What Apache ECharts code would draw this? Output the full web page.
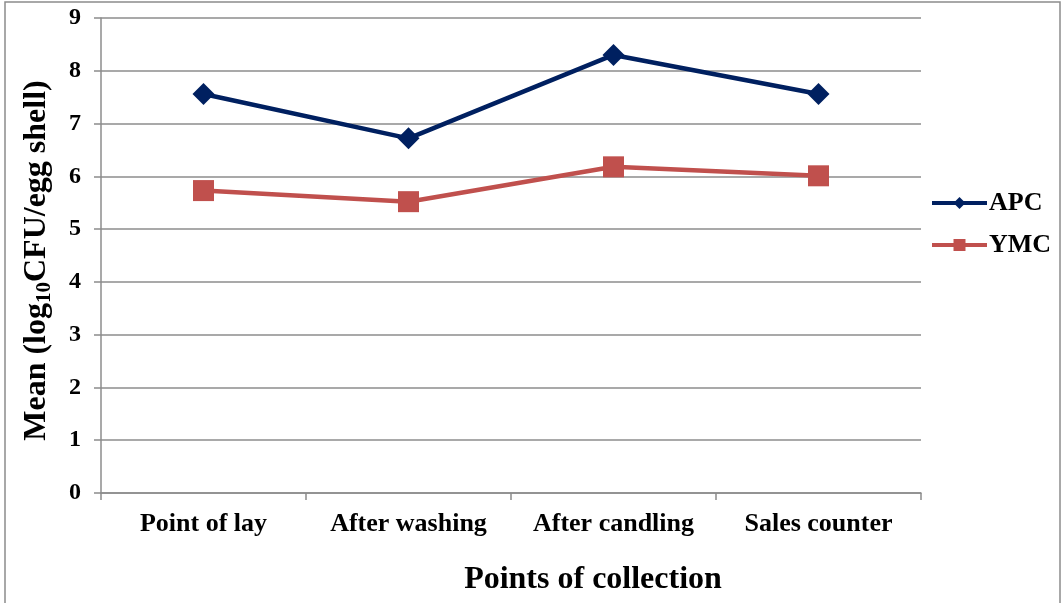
<!DOCTYPE html>
<html>
<head>
<meta charset="utf-8">
<script src="https://cdn.jsdelivr.net/npm/echarts@6/dist/echarts.min.js"></script>
<style>
  html, body { margin: 0; padding: 0; background: #fff; }
  #chart { width: 1063px; height: 603px; }
</style>
</head>
<body>
<div id="chart"></div>
<script>
const categories = ["Point of lay", "After washing", "After candling", "Sales counter"];
const apcValues = [7.56, 6.72, 8.3, 7.56];
const ymcValues = [5.73, 5.52, 6.18, 6.01];
const yTicks = [0, 1, 2, 3, 4, 5, 6, 7, 8, 9];

const chart = echarts.init(document.getElementById("chart"));
const serif = "'Liberation Serif', 'Times New Roman', serif";

const option = {
  animation: false,
  textStyle: { fontFamily: serif },
  graphic: [
    {
      type: "rect",
      shape: { x: 5, y: 2, width: 1055, height: 610 },
      style: { fill: "none", stroke: "#8c8c8c", lineWidth: 1.5 },
    },
  ],
  grid: { left: 101, right: 142, top: 18, bottom: 110 },
  legend: {
    orient: "vertical",
    left: 925,
    top: 185,
    itemGap: 16,
    itemWidth: 55,
    itemHeight: 15,
    lineStyle: { width: 4 },
    textStyle: { fontFamily: serif, fontWeight: "bold", fontSize: 26, color: "#000", padding: [0, 0, 0, -3] },
    data: ["APC", "YMC"],
  },
  xAxis: {
    type: "category",
    data: categories,
    boundaryGap: true,
    name: "Points of collection",
    nameLocation: "middle",
    nameGap: 71,
    nameTextStyle: {
      fontFamily: serif,
      fontWeight: "bold",
      fontSize: 32,
      color: "#000",
      padding: [0, 0, 0, 164],
    },
    axisLine: { lineStyle: { color: "#8c8c8c", width: 1.5 } },
    axisTick: { show: true, interval: 0, length: 7, lineStyle: { color: "#8c8c8c", width: 1.5 } },
    axisLabel: { interval: 0, fontFamily: serif, fontWeight: "bold", fontSize: 26, color: "#000", margin: 18 },
  },
  yAxis: {
    type: "value",
    min: yTicks[0],
    max: yTicks[yTicks.length - 1],
    interval: 1,
    name: "Mean (log{sub|10}CFU/egg shell)",
    nameLocation: "middle",
    nameGap: 46,
    nameRotate: 90,
    nameTextStyle: {
      fontFamily: serif,
      fontWeight: "bold",
      fontSize: 32,
      color: "#000",
      padding: [0, 10, 0, 0],
      rich: {
        sub: {
          fontFamily: serif,
          fontWeight: "bold",
          fontSize: 21,
          color: "#000",
          verticalAlign: "bottom",
          padding: [15, 0, 0, 0],
        },
      },
    },
    axisLine: { show: true, lineStyle: { color: "#8c8c8c", width: 1.5 } },
    axisTick: { show: true, length: 7, lineStyle: { color: "#8c8c8c", width: 1.5 } },
    axisLabel: { fontFamily: serif, fontWeight: "bold", fontSize: 24, color: "#000", margin: 20 },
    splitLine: { show: true, lineStyle: { color: "#8c8c8c", width: 1.5 } },
  },
  series: [
    {
      name: "APC",
      type: "line",
      data: apcValues,
      symbol: "diamond",
      symbolSize: 22,
      itemStyle: { color: "#002060" },
      lineStyle: { color: "#002060", width: 4.5 },
    },
    {
      name: "YMC",
      type: "line",
      data: ymcValues,
      symbol: "rect",
      symbolSize: 21,
      itemStyle: { color: "#c0504d" },
      lineStyle: { color: "#c0504d", width: 4.5 },
    },
  ],
};

chart.setOption(option);
</script>
</body>
</html>
